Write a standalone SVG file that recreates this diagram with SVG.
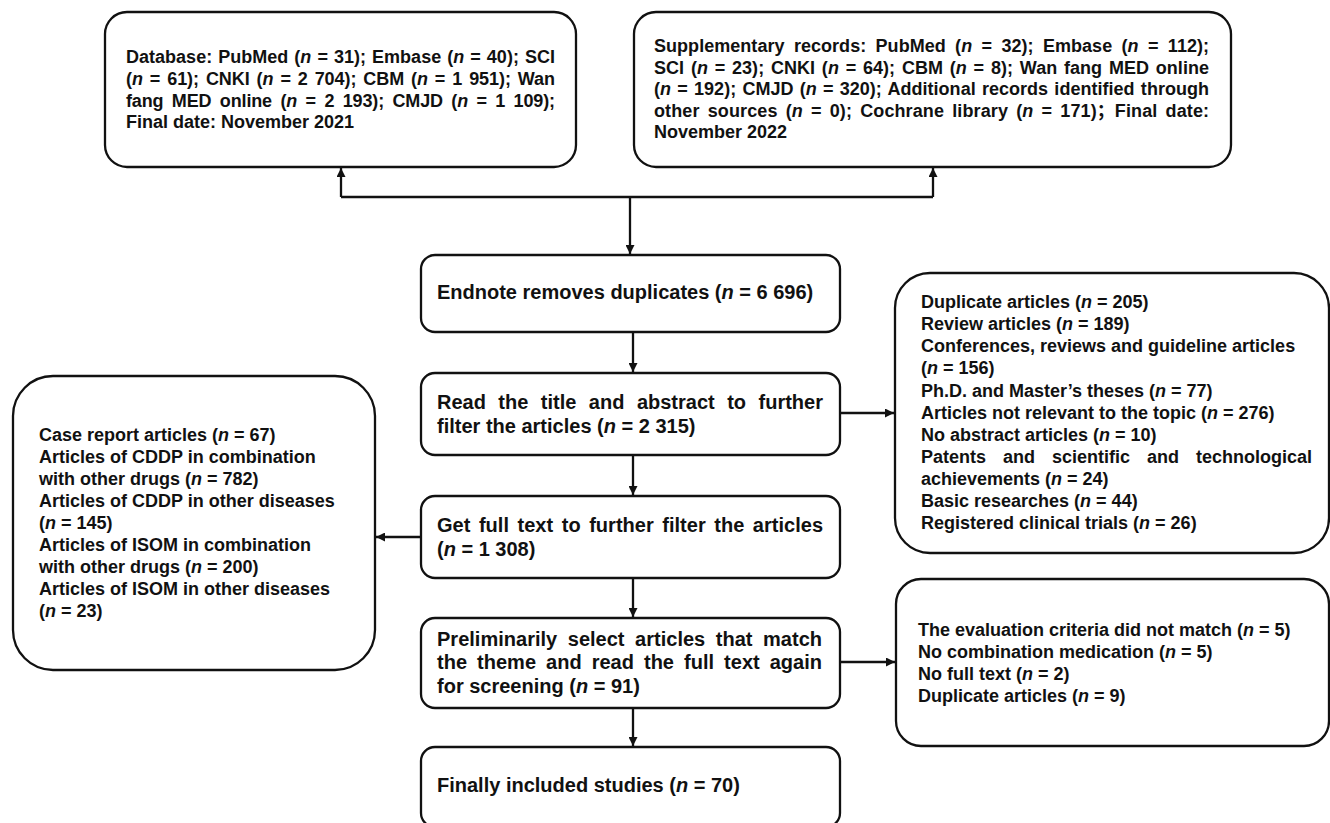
<svg xmlns="http://www.w3.org/2000/svg" width="1330" height="823" viewBox="0 0 1330 823">
<style>
.box{fill:#fff;stroke:#111;stroke-width:2.3}
.t{font-family:"Liberation Sans",Arial,"Noto Sans CJK SC",sans-serif;font-weight:bold;font-size:18px;fill:#111}
.c{font-size:20px}
.i{font-style:italic}
.ln{fill:none;stroke:#111;stroke-width:2.3}
</style>
<defs>
<marker id="ah" viewBox="0 0 10 10" refX="10" refY="5" markerWidth="9" markerHeight="9" markerUnits="userSpaceOnUse" orient="auto">
<path d="M0,0 L10,5 L0,10 z" fill="#111"/>
</marker>
</defs>
<rect width="1330" height="823" fill="#fff"/>

<g id="connectors">
<path class="ln" d="M341,197 H933"/>
<path class="ln" d="M341,197 V168" marker-end="url(#ah)"/>
<path class="ln" d="M933,197 V168" marker-end="url(#ah)"/>
<path class="ln" d="M630,197 V254" marker-end="url(#ah)"/>
<path class="ln" d="M633,333 V372" marker-end="url(#ah)"/>
<path class="ln" d="M633,456 V495" marker-end="url(#ah)"/>
<path class="ln" d="M633,579 V617" marker-end="url(#ah)"/>
<path class="ln" d="M633,709 V746" marker-end="url(#ah)"/>
<path class="ln" d="M841,413 H894" marker-end="url(#ah)"/>
<path class="ln" d="M421,537 H376" marker-end="url(#ah)"/>
<path class="ln" d="M841,662 H895" marker-end="url(#ah)"/>
</g>

<g id="db">
<rect class="box" x="105" y="12" width="471" height="155" rx="22"/>
<text class="t">
<tspan x="126" y="63" style="word-spacing:1px" textLength="429" lengthAdjust="spacing">Database: PubMed (<tspan class="i">n</tspan> = 31); Embase (<tspan class="i">n</tspan> = 40); SCI</tspan>
<tspan x="126" y="85" style="word-spacing:2px" textLength="429" lengthAdjust="spacing">(<tspan class="i">n</tspan> = 61); CNKI (<tspan class="i">n</tspan> = 2 704); CBM (<tspan class="i">n</tspan> = 1 951); Wan</tspan>
<tspan x="126" y="106.5" style="word-spacing:3.6px" textLength="429" lengthAdjust="spacing">fang MED online (<tspan class="i">n</tspan> = 2 193); CMJD (<tspan class="i">n</tspan> = 1 109);</tspan>
<tspan x="126" y="128">Final date: November 2021</tspan>
</text>
</g>

<g id="supp">
<rect class="box" x="634" y="12" width="597" height="155" rx="22"/>
<text class="t">
<tspan x="654" y="52" style="word-spacing:4.3px" textLength="555" lengthAdjust="spacing">Supplementary records: PubMed (<tspan class="i">n</tspan> = 32); Embase (<tspan class="i">n</tspan> = 112);</tspan>
<tspan x="654" y="73.5" style="word-spacing:1.7px" textLength="555" lengthAdjust="spacing">SCI (<tspan class="i">n</tspan> = 23); CNKI (<tspan class="i">n</tspan> = 64); CBM (<tspan class="i">n</tspan> = 8); Wan fang MED online</tspan>
<tspan x="654" y="95" style="word-spacing:1.2px" textLength="555" lengthAdjust="spacing">(<tspan class="i">n</tspan> = 192); CMJD (<tspan class="i">n</tspan> = 320); Additional records identified through</tspan>
<tspan x="654" y="116.5" style="word-spacing:3px" textLength="555" lengthAdjust="spacing">other sources (<tspan class="i">n</tspan> = 0); Cochrane library (<tspan class="i">n</tspan> = 171)；Final date:</tspan>
<tspan x="654" y="138">November 2022</tspan>
</text>
</g>

<g id="endnote">
<rect class="box" x="421" y="255" width="419" height="77" rx="14"/>
<text class="t c"><tspan x="437" y="299">Endnote removes duplicates (<tspan class="i">n</tspan> = 6 696)</tspan></text>
</g>

<g id="title">
<rect class="box" x="421" y="373" width="419" height="82" rx="14"/>
<text class="t c">
<tspan x="437" y="409" style="word-spacing:6.9px" textLength="386" lengthAdjust="spacing">Read the title and abstract to further</tspan>
<tspan x="437" y="433">filter the articles (<tspan class="i">n</tspan> = 2 315)</tspan>
</text>
</g>

<g id="fulltext">
<rect class="box" x="421" y="496" width="419" height="82" rx="14"/>
<text class="t c">
<tspan x="437" y="532" style="word-spacing:3px" textLength="386" lengthAdjust="spacing">Get full text to further filter the articles</tspan>
<tspan x="437" y="556">(<tspan class="i">n</tspan> = 1 308)</tspan>
</text>
</g>

<g id="prelim">
<rect class="box" x="421" y="618" width="419" height="90" rx="14"/>
<text class="t c">
<tspan x="437" y="646" style="word-spacing:5px" textLength="385" lengthAdjust="spacing">Preliminarily select articles that match</tspan>
<tspan x="437" y="669" style="word-spacing:4.4px" textLength="385" lengthAdjust="spacing">the theme and read the full text again</tspan>
<tspan x="437" y="693">for screening (<tspan class="i">n</tspan> = 91)</tspan>
</text>
</g>

<g id="final">
<rect class="box" x="421" y="747" width="419" height="80" rx="14"/>
<text class="t c"><tspan x="437" y="792">Finally included studies (<tspan class="i">n</tspan> = 70)</tspan></text>
</g>

<g id="excl-left">
<rect class="box" x="13" y="376" width="362" height="294" rx="40"/>
<text class="t">
<tspan x="39" y="441">Case report articles (<tspan class="i">n</tspan> = 67)</tspan>
<tspan x="39" y="463">Articles of CDDP in combination</tspan>
<tspan x="39" y="485">with other drugs (<tspan class="i">n</tspan> = 782)</tspan>
<tspan x="39" y="507">Articles of CDDP in other diseases</tspan>
<tspan x="39" y="529">(<tspan class="i">n</tspan> = 145)</tspan>
<tspan x="39" y="551">Articles of ISOM in combination</tspan>
<tspan x="39" y="573">with other drugs (<tspan class="i">n</tspan> = 200)</tspan>
<tspan x="39" y="595">Articles of ISOM in other diseases</tspan>
<tspan x="39" y="617">(<tspan class="i">n</tspan> = 23)</tspan>
</text>
</g>

<g id="excl-right1">
<rect class="box" x="895" y="273" width="434" height="280" rx="35"/>
<text class="t">
<tspan x="921" y="308">Duplicate articles (<tspan class="i">n</tspan> = 205)</tspan>
<tspan x="921" y="330">Review articles (<tspan class="i">n</tspan> = 189)</tspan>
<tspan x="921" y="352">Conferences, reviews and guideline articles</tspan>
<tspan x="921" y="374">(<tspan class="i">n</tspan> = 156)</tspan>
<tspan x="921" y="397">Ph.D. and Master’s theses (<tspan class="i">n</tspan> = 77)</tspan>
<tspan x="921" y="419">Articles not relevant to the topic (<tspan class="i">n</tspan> = 276)</tspan>
<tspan x="921" y="441">No abstract articles (<tspan class="i">n</tspan> = 10)</tspan>
<tspan x="921" y="463" style="word-spacing:12px" textLength="391" lengthAdjust="spacing">Patents and scientific and technological</tspan>
<tspan x="921" y="485">achievements (<tspan class="i">n</tspan> = 24)</tspan>
<tspan x="921" y="507">Basic researches (<tspan class="i">n</tspan> = 44)</tspan>
<tspan x="921" y="529">Registered clinical trials (<tspan class="i">n</tspan> = 26)</tspan>
</text>
</g>

<g id="excl-right2">
<rect class="box" x="896" y="579" width="433" height="167" rx="25"/>
<text class="t">
<tspan x="918" y="636">The evaluation criteria did not match (<tspan class="i">n</tspan> = 5)</tspan>
<tspan x="918" y="658">No combination medication (<tspan class="i">n</tspan> = 5)</tspan>
<tspan x="918" y="680">No full text (<tspan class="i">n</tspan> = 2)</tspan>
<tspan x="918" y="702">Duplicate articles (<tspan class="i">n</tspan> = 9)</tspan>
</text>
</g>
</svg>
